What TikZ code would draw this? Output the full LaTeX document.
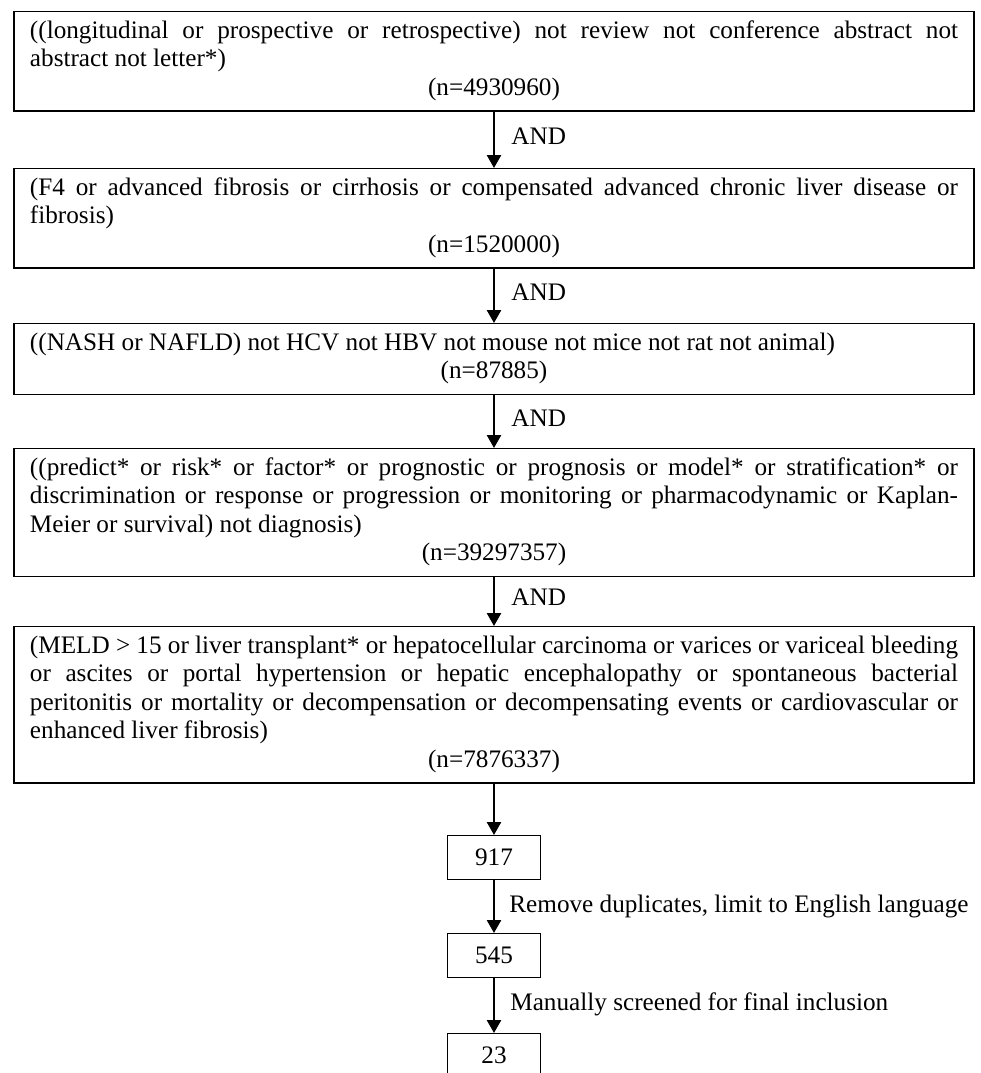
\documentclass[tikz,border=0pt]{standalone}
\usepackage{fontspec}
\setmainfont{Liberation Serif}
\usetikzlibrary{arrows.meta}
\hyphenpenalty=10000
\tolerance=10000
\newcommand{\countline}[1]{\makebox[\linewidth]{#1\strut}}
\begin{document}
\begin{tikzpicture}[x=0.5pt,y=-0.5pt,
  txt/.style={font=\fontsize{12.6}{14.25}\selectfont},
  bigbox/.style={txt, draw, line width=0.7pt, text width=464pt, inner xsep=8pt, inner ysep=3.4pt, align=justify, anchor=north},
  smallbox/.style={txt, draw, line width=0.7pt, minimum width=46.5pt, minimum height=22pt, inner sep=0pt, anchor=north},
  arr/.style={line width=1.3pt, -{Triangle[width=7pt,length=6.5pt]}},
  lbl/.style={txt, anchor=west, inner sep=0pt}]
\fill[white] (0,0) rectangle (981,1073);
\useasboundingbox (0,0) rectangle (981,1073);

\node[bigbox] (b1) at (494,11) {\strut((longitudinal or prospective or retrospective) not review not conference abstract not\linebreak abstract not letter*)\strut\par\countline{(n=4930960)}};
\node[bigbox] (b2) at (494,168) {\strut(F4 or advanced fibrosis or cirrhosis or compensated advanced chronic liver disease or\linebreak fibrosis)\strut\par\countline{(n=1520000)}};
\node[bigbox] (b3) at (494,323) {\strut((NASH or NAFLD) not HCV not HBV not mouse not mice not rat not animal)\strut\par\countline{(n=87885)}};
\node[bigbox] (b4) at (494,448) {\strut((predict* or risk* or factor* or prognostic or prognosis or model* or stratification* or\linebreak discrimination or response or progression or monitoring or pharmacodynamic or Kaplan-\linebreak Meier or survival) not diagnosis)\strut\par\countline{(n=39297357)}};
\node[bigbox] (b5) at (494,626) {\strut(MELD > 15 or liver transplant* or hepatocellular carcinoma or varices or variceal bleeding\linebreak or ascites or portal hypertension or hepatic encephalopathy or spontaneous bacterial\linebreak peritonitis or mortality or decompensation or decompensating events or cardiovascular or\linebreak enhanced liver fibrosis)\strut\par\countline{(n=7876337)}};

\node[smallbox] (s1) at (494,835) {917};
\node[smallbox] (s2) at (494,933) {545};
\node[smallbox] (s3) at (494,1033) {23};

\draw[arr] (b1.south) -- (b2.north);
\draw[arr] (b2.south) -- (b3.north);
\draw[arr] (b3.south) -- (b4.north);
\draw[arr] (b4.south) -- (b5.north);
\draw[arr] (b5.south) -- (s1.north);
\draw[arr] (s1.south) -- (s2.north);
\draw[arr] (s2.south) -- (s3.north);

\node[lbl] (a1) at (511,136) {AND};
\node[lbl] (a2) at (511,292) {AND};
\node[lbl] (a3) at (511,418) {AND};
\node[lbl] (a4) at (511,597) {AND};
\node[lbl] (r1) at (509,906) {Remove duplicates, limit to English language};
\node[lbl] (r2) at (510,1004) {Manually screened for final inclusion};
\end{tikzpicture}
\end{document}
